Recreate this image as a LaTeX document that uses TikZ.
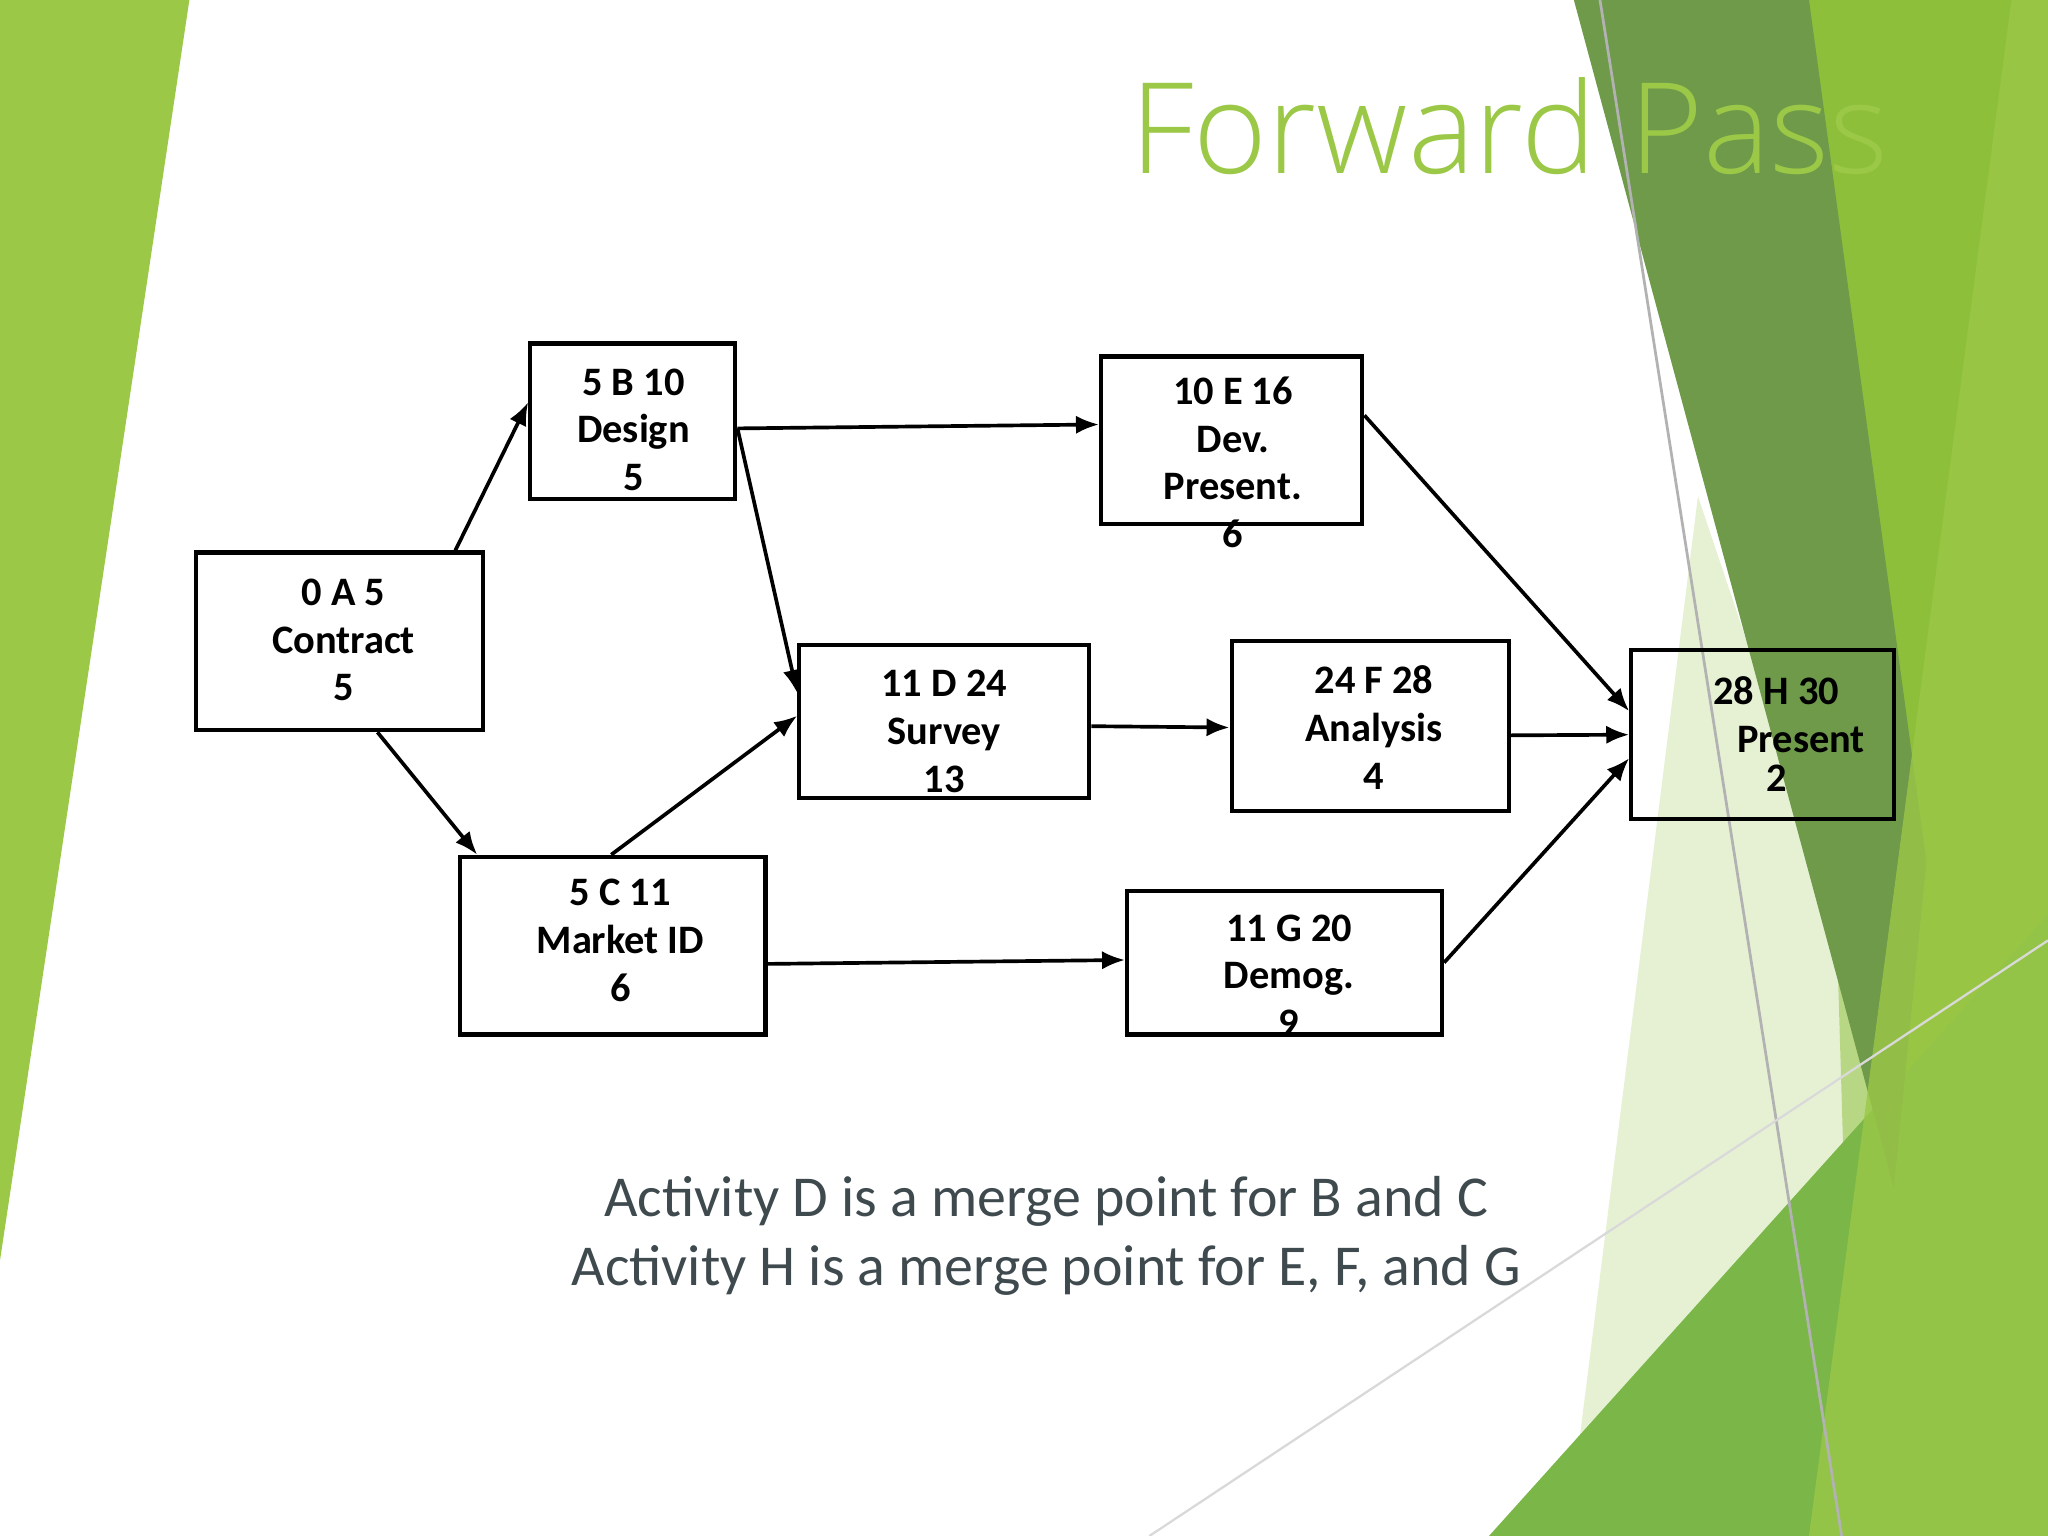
\documentclass[tikz,border=0pt]{standalone}
\usepackage{fontspec}
\setmainfont{Carlito}
\newfontfamily\titlefont{Open Sans Light}
\usetikzlibrary{arrows.meta,calc}
\definecolor{lg}{HTML}{9BC847}
\definecolor{dg}{HTML}{6E9A4A}
\definecolor{mg}{HTML}{8DBF3A}
\definecolor{bg}{HTML}{7AB648}
\definecolor{pg}{HTML}{D6E8B8}
\definecolor{txt}{HTML}{3F4A4F}
\begin{document}
\begin{tikzpicture}[x=0.01cm,y=-0.01cm,
  box/.style={draw,line width=0.9pt,inner sep=0pt},
  lbl/.style={font=\bfseries\fontsize{8.8}{10.4}\selectfont,align=center},
  arr/.style={-{Latex[length=5pt,width=4pt]},line width=0.8pt}]
\useasboundingbox (0,0) rectangle (1568,1176);
% background
\fill[lg] (0,0) -- (145,0) -- (0,965) -- cycle;
\fill[mg] (1385,0) -- (1568,0) -- (1568,1176) -- (1420,1176) -- cycle;
\fill[pg,opacity=0.6] (1200,1176) -- (1300,380) -- (1568,1176) -- cycle;
\fill[bg] (1140,1176) -- (1568,700) -- (1568,1176) -- cycle;
\fill[dg] (1205,0) -- (1385,0) -- (1475,660) -- (1450,910) -- cycle;
\fill[lg,opacity=0.8] (1385,1176) -- (1540,0) -- (1568,0) -- (1568,1176) -- cycle;
\draw[gray!60,line width=0.6pt] (1225,0) -- (1410,1176);
\draw[gray!30,line width=0.5pt] (880,1176) -- (1568,720);
% title
\node[anchor=base east,text=lg,font=\titlefont\fontsize{27.5}{30}\selectfont] (title) at (1458,133) {Forward Pass};
% boxes
\node[box,minimum width=2.2cm,minimum height=1.36cm] (A) at (260,491) {};
\node[box,minimum width=1.57cm,minimum height=1.19cm] (B) at (484.5,322.5) {};
\node[box,minimum width=2.0cm,minimum height=1.28cm] (E) at (943,337) {};
\node[box,minimum width=2.22cm,minimum height=1.17cm] (D) at (723,552.5) {};
\node[box,minimum width=2.12cm,minimum height=1.30cm] (F) at (1049,556) {};
\node[box,minimum width=2.01cm,minimum height=1.29cm] (H) at (1349.5,562.5) {};
\node[box,minimum width=2.34cm,minimum height=1.36cm] (C) at (469,724) {};
\node[box,minimum width=2.41cm,minimum height=1.10cm] (G) at (983.5,737) {};
% labels
\node[lbl] (tA) at (263,490) {0 A 5\\Contract\\5};
\node[lbl] (tB) at (485,329) {5 B 10\\Design\\5};
\node[lbl] (tE) at (944,354) {10 E 16\\Dev.\\Present.\\6};
\node[lbl] (tD) at (723,560) {11 D 24\\Survey\\13};
\node[lbl] (tF) at (1052,557) {24 F 28\\Analysis\\4};
\node[lbl] (tH) at (1360,562) {28 H 30\\\hspace*{0.38cm}Present\\[-2pt]2};
\node[lbl] (tC) at (475,720) {5 C 11\\Market ID\\6};
\node[lbl] (tG) at (987,747) {11 G 20\\Demog.\\9};
% arrows
\draw[arr] ($(A.north east)+(-23,0)$) -- ($(B.west)+(0,-14.5)$);
\draw[arr] ($(A.south)+(29,0)$) -- ($(C.north west)+(15,0)$);
\draw[arr] ($(B.east)+(0,5.5)$) -- ($(E.west)+(0,-12)$);
\draw[arr] ($(B.east)+(0,5.5)$) -- ($(D.west)+(0,-22)$);
\draw[arr] ($(C.north)+(-1,0)$) -- ($(D.west)+(0,-4.5)$);
\draw[arr] ($(C.east)+(0,14)$) -- ($(G.west)+(0,-2)$);
\draw[arr] ($(D.east)+(0,3.5)$) -- ($(F.west)+(0,1)$);
\draw[arr] ($(F.east)+(0,7)$) -- (H.west);
\draw[arr] ($(E.east)+(0,-19)$) -- ($(H.west)+(0,-18)$);
\draw[arr] (G.east) -- ($(H.west)+(0,18)$);
% bottom text
\node[text=txt,font=\fontsize{12.6}{15}\selectfont,align=center] (note) at (801,946) {Activity D is a merge point for B and C\\Activity H is a merge point for E, F, and G};
\end{tikzpicture}
\end{document}
